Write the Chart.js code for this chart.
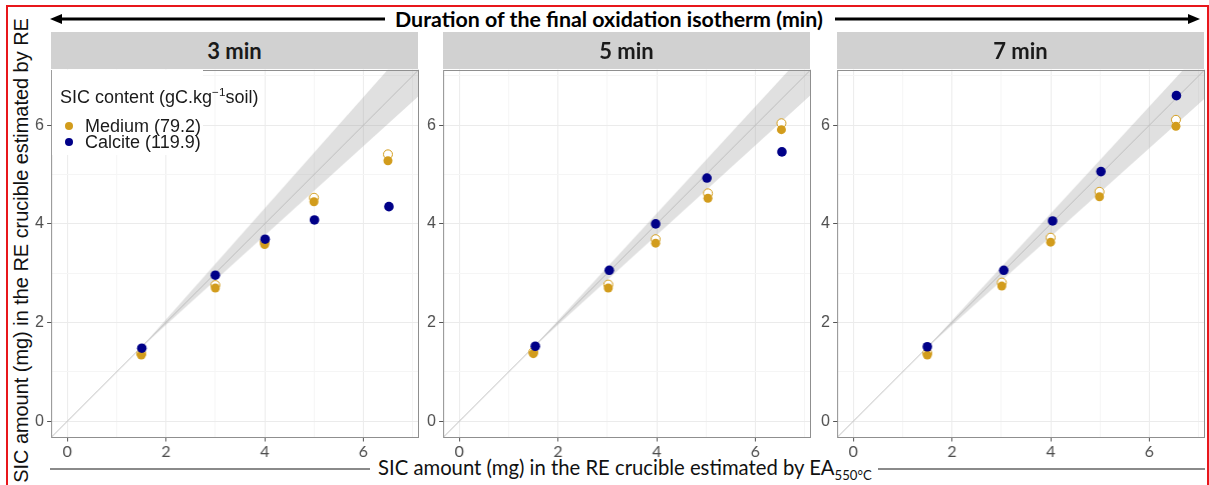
<!DOCTYPE html>
<html>
<head>
<meta charset="utf-8">
<script src="https://cdn.jsdelivr.net/npm/chart.js@4.4.1/dist/chart.umd.min.js"></script>
<style>
body{margin:0;width:1209px;height:485px;position:relative;overflow:hidden;background:#fff;font-family:"Liberation Sans",Arial,sans-serif;}
.abs{position:absolute;white-space:nowrap;}
.frame{position:absolute;left:6px;top:5px;width:1199px;height:500px;border:2px solid #e8161b;border-bottom:none;}
.strip{position:absolute;top:32px;height:37px;background:#d1d1d1;font-family:Lato,"Liberation Sans",sans-serif;font-weight:bold;font-size:22px;color:#1a1a1a;text-align:center;line-height:37px;}
canvas{position:absolute;}
.legend{position:absolute;left:52px;top:70px;width:151px;height:85px;background:#fff;}
.dot{position:absolute;width:8px;height:8px;border-radius:50%;}
sup,sub{line-height:0;}
</style>
</head>
<body>
<div class="frame"></div>
<svg class="abs" style="left:0;top:0" width="1209" height="485">
  <line x1="60" y1="19" x2="385" y2="19" stroke="#000" stroke-width="3"/>
  <polygon points="50,19 62,14 62,24" fill="#000"/>
  <line x1="835" y1="19" x2="1190" y2="19" stroke="#000" stroke-width="3"/>
  <polygon points="1200,19 1188,14 1188,24" fill="#000"/>
  <line x1="50" y1="469" x2="370" y2="469" stroke="#8a8a8a" stroke-width="2"/>
  <line x1="878" y1="469" x2="1205" y2="469" stroke="#8a8a8a" stroke-width="2"/>
</svg>
<div id="header" class="abs" style="font-family:Lato,'Liberation Sans',sans-serif;font-weight:bold;font-size:19px;color:#000;">Duration of the final oxidation isotherm (min)</div>
<div id="ytitle" class="abs" style="font-size:18px;color:#111;">SIC amount (mg) in the RE crucible estimated by RE</div>
<div id="xtitle" class="abs" style="font-family:Lato,'Liberation Sans',sans-serif;font-size:19px;color:#111;">SIC amount (mg) in the RE crucible estimated by EA<sub style="font-size:0.65em;">550°C</sub></div>

<canvas id="c0"></canvas>
<canvas id="c1"></canvas>
<canvas id="c2"></canvas>

<div class="legend">
  <div class="abs" style="left:8px;top:17px;font-size:18px;line-height:20px;color:#1a1a1a;">SIC content (gC.kg<sup style="font-size:0.65em;">−1</sup>soil)</div>
  <div class="dot" style="left:13px;top:52px;background:#d29c1c;"></div>
  <div class="abs" style="left:33px;top:46px;font-size:18px;line-height:20px;color:#1a1a1a;">Medium (79.2)</div>
  <div class="dot" style="left:13px;top:68px;background:#000088;"></div>
  <div class="abs" style="left:33px;top:62px;font-size:18px;line-height:20px;color:#1a1a1a;">Calcite (119.9)</div>
</div>

<script>
// facets
var panelLabels = ["3 min", "5 min", "7 min"];

// Calcite (119.9)
var calciteX = [[1.51, 3.00, 4.01, 5.01, 6.52], [1.54, 3.04, 3.98, 5.02, 6.54], [1.50, 3.05, 4.04, 5.02, 6.55]];
var calciteY = [[1.48, 2.96, 3.69, 4.08, 4.35], [1.52, 3.06, 4.00, 4.93, 5.46], [1.51, 3.06, 4.06, 5.06, 6.60]];

// Medium (79.2), filled points
var mediumX = [[1.50, 3.00, 4.00, 5.00, 6.50], [1.50, 3.02, 3.98, 5.04, 6.53], [1.50, 3.01, 4.00, 4.99, 6.54]];
var mediumY = [[1.34, 2.70, 3.58, 4.45, 5.28], [1.37, 2.70, 3.61, 4.52, 5.91], [1.34, 2.74, 3.63, 4.55, 5.98]];
// Medium (79.2), open points
var mediumOpenY = [[1.37, 2.76, 3.63, 4.53, 5.41], [1.40, 2.77, 3.69, 4.62, 6.04], [1.38, 2.81, 3.72, 4.65, 6.11]];

// 1:1 line and its grey band
var oneToOne = [-0.5, 7.5];
var bandX = [1.5, 7.2];
var bandUpper = [[1.5, 7.92], [1.5, 7.68], [1.5, 7.68]];
var bandLower = [[1.5, 6.66], [1.5, 6.68], [1.5, 6.61]];

var axisMin = -0.33, axisMax = 7.13;
var tickValues = [0, 1, 2, 3, 4, 5, 6, 7];

var panelLeft = [51, 443, 837];
var panelTop = 69;
var panelWidth = 367;
var panelHeight = 368;

function pts(xs, ys){
    var out = [];
    for(let i=0; i<xs.length; i++){
        out.push({x: xs[i], y: ys[i]});
    }
    return out;
}

var borderPlugin = {
    id: "panelBorder",
    afterDraw: function(chart){
        var a = chart.chartArea, ctx = chart.ctx;
        ctx.save();
        ctx.strokeStyle = "#8f8f8f";
        ctx.lineWidth = 1;
        ctx.strokeRect(Math.round(a.left) + 0.5, Math.round(a.top) + 0.5, Math.round(a.right - a.left) - 1, Math.round(a.bottom - a.top) - 1);
        ctx.restore();
    }
};

function axis(isX){
    return {
        type: "linear",
        min: axisMin,
        max: axisMax,
        afterBuildTicks: function(s){ s.ticks = tickValues.map(function(v){ return {value: v}; }); },
        afterFit: function(s){
            if(isX){ s.height = 22; } else { s.width = 30; }
            s.paddingTop = 0; s.paddingBottom = 0; s.paddingLeft = 0; s.paddingRight = 0;
        },
        border: {display: false},
        grid: {
            color: function(c){ return (c.tick && c.tick.value % 2 === 0) ? "#ebebeb" : "#f5f5f5"; },
            lineWidth: 1,
            tickLength: 4,
            tickColor: function(c){ return (c.tick && c.tick.value % 2 === 0) ? "#555" : "rgba(0,0,0,0)"; }
        },
        ticks: {
            autoSkip: false,
            maxRotation: 0,
            padding: isX ? 1 : 3,
            color: "#4d4d4d",
            font: isX ? {family: "Lato", size: 16} : {family: "Liberation Sans", size: 16},
            callback: function(v){ return v % 2 === 0 ? String(v) : ""; }
        }
    };
}

for(let p=0; p<3; p++){
    var cv = document.getElementById("c" + p);
    cv.width = panelWidth + 35;
    cv.height = panelHeight + 27;

    var strip = document.createElement("div");
    strip.className = "strip";
    strip.style.left = panelLeft[p] + "px";
    strip.style.width = panelWidth + "px";
    strip.textContent = panelLabels[p];
    document.body.appendChild(strip);

    var ch = new Chart(cv, {
        type: "line",
        data: {
            datasets: [
                {data: pts(bandX, bandUpper[p]), borderWidth: 0, pointRadius: 0, fill: "+1", backgroundColor: "rgba(160,160,160,0.32)", order: 5},
                {data: pts(bandX, bandLower[p]), borderWidth: 0, pointRadius: 0, fill: false, order: 6},
                {data: pts(oneToOne, oneToOne), borderColor: "#bdbdbd", borderWidth: 1, pointRadius: 0, fill: false, order: 4},
                {data: pts(mediumX[p], mediumOpenY[p]), showLine: false, pointRadius: 4.5, pointBackgroundColor: "#fff", pointBorderColor: "#d29c1c", pointBorderWidth: 1, order: 3},
                {data: pts(mediumX[p], mediumY[p]), showLine: false, pointRadius: 4.5, pointBackgroundColor: "#d29c1c", pointBorderColor: "#d29c1c", pointBorderWidth: 0, order: 2},
                {data: pts(calciteX[p], calciteY[p]), showLine: false, pointRadius: 4.8, pointBackgroundColor: "#000088", pointBorderColor: "#000088", pointBorderWidth: 0, order: 1}
            ]
        },
        options: {
            responsive: false,
            devicePixelRatio: 1,
            animation: false,
            layout: {padding: 0},
            plugins: {legend: {display: false}, tooltip: {enabled: false}},
            scales: {x: axis(true), y: axis(false)}
        },
        plugins: [borderPlugin]
    });

    // make the plot area land exactly on the panel rectangle
    var a = ch.chartArea;
    var dw = panelWidth - (a.right - a.left);
    var dh = panelHeight - (a.bottom - a.top);
    if(dw !== 0 || dh !== 0){
        ch.resize(ch.width + dw, ch.height + dh);
        a = ch.chartArea;
    }
    cv.style.left = (panelLeft[p] - a.left) + "px";
    cv.style.top = (panelTop - a.top) + "px";
}

// legend sits over panel 1
document.body.appendChild(document.querySelector(".legend"));

function fitWidth(el, w){
    var r = w / el.getBoundingClientRect().width;
    el.style.fontSize = (parseFloat(getComputedStyle(el).fontSize) * r) + "px";
}

var header = document.getElementById("header");
fitWidth(header, 428);
header.style.left = (609 - header.offsetWidth / 2) + "px";
header.style.top = (19 - header.offsetHeight / 2) + "px";

var xt = document.getElementById("xtitle");
fitWidth(xt, 494);
xt.style.left = (625 - xt.offsetWidth / 2) + "px";
xt.style.top = (467 - xt.offsetHeight / 2) + "px";

var yt = document.getElementById("ytitle");
fitWidth(yt, 465);
yt.style.left = (21 - yt.offsetWidth / 2) + "px";
yt.style.top = (250 - yt.offsetHeight / 2) + "px";
yt.style.transform = "rotate(-90deg)";
</script>
</body>
</html>
